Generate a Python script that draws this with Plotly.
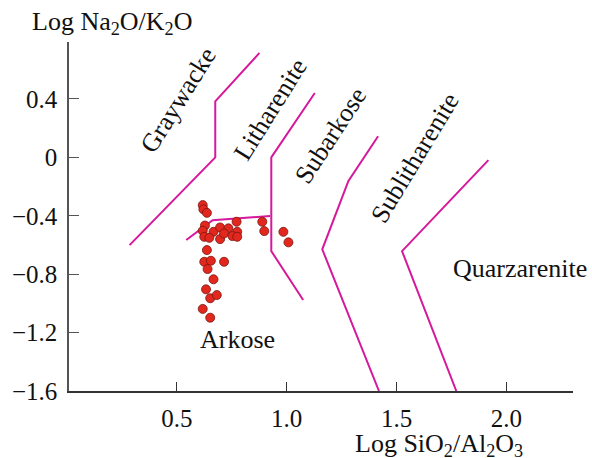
import plotly.graph_objects as go

# Sample points (Log SiO2/Al2O3, Log Na2O/K2O)
sample_x = [0.618, 0.621, 0.637, 0.628, 0.618, 0.667, 0.697, 0.735, 0.772, 0.775,
            0.625, 0.648, 0.697, 0.715, 0.753, 0.775, 0.889, 0.898, 0.985, 1.008,
            0.637, 0.625, 0.655, 0.640, 0.715, 0.667, 0.633, 0.652, 0.682, 0.618, 0.652]
sample_y = [-0.327, -0.356, -0.380, -0.467, -0.503, -0.510, -0.480, -0.486, -0.441, -0.510,
            -0.544, -0.551, -0.560, -0.521, -0.539, -0.544, -0.441, -0.505, -0.510, -0.582,
            -0.635, -0.715, -0.708, -0.765, -0.715, -0.835, -0.904, -0.965, -0.943, -1.038, -1.098]

# Field boundaries
graywacke_x = [0.285, 0.675, 0.675, 0.876]
graywacke_y = [-0.601, 0.0, 0.384, 0.715]
litharenite_x = [1.075, 0.930, 0.930, 1.128]
litharenite_y = [-0.977, -0.642, 0.0, 0.441]
arkose_x = [0.543, 0.663, 0.925]
arkose_y = [-0.566, -0.430, -0.402]
subarkose_x = [1.420, 1.162, 1.281, 1.416]
subarkose_y = [-1.6, -0.630, -0.161, 0.145]
sublith_x = [1.772, 1.525, 1.918]
sublith_y = [-1.6, -0.642, -0.019]

# Field labels
field_names = ["Graywacke", "Litharenite", "Subarkose", "Sublitharenite", "Arkose", "Quarzarenite"]
field_x = [0.505, 0.925, 1.199, 1.585, 0.774, 2.062]
field_y = [0.391, 0.330, 0.152, -0.002, -1.250, -0.758]
field_angle = [-58, -58, -57, -59, 0, 0]

x_ticks = [0.5, 1.0, 1.5, 2.0]
y_ticks = [0.4, 0, -0.4, -0.8, -1.2, -1.6]

LINE = "#d6189b"
FONT = "Liberation Serif"

fig = go.Figure()
for xs, ys in [(graywacke_x, graywacke_y), (litharenite_x, litharenite_y),
               (arkose_x, arkose_y), (subarkose_x, subarkose_y), (sublith_x, sublith_y)]:
    fig.add_trace(go.Scatter(x=xs, y=ys, mode="lines",
                             line=dict(color=LINE, width=2), hoverinfo="skip"))

fig.add_trace(go.Scatter(x=sample_x, y=sample_y, mode="markers",
                         marker=dict(size=9, color="#e2281e",
                                     line=dict(color="#7a140c", width=0.8))))

for name, fx, fy, ang in zip(field_names, field_x, field_y, field_angle):
    fig.add_annotation(x=fx, y=fy, text=name, showarrow=False, textangle=ang,
                       xanchor="center", yanchor="middle",
                       font=dict(family=FONT, size=26, color="#111"))

fig.add_annotation(xref="paper", yref="paper", x=-0.077, y=1.055,
                   text="Log Na<sub>2</sub>O/K<sub>2</sub>O", showarrow=False,
                   xanchor="left", yanchor="middle",
                   font=dict(family=FONT, size=26, color="#111"))
fig.add_annotation(xref="paper", yref="paper", x=0.735, y=-0.155,
                   text="Log SiO<sub>2</sub>/Al<sub>2</sub>O<sub>3</sub>", showarrow=False,
                   xanchor="center", yanchor="middle",
                   font=dict(family=FONT, size=26, color="#111"))

fig.update_layout(
    width=592, height=458,
    margin=dict(l=63, r=19, t=42, b=67),
    paper_bgcolor="white", plot_bgcolor="white",
    showlegend=False,
    font=dict(family=FONT, size=25, color="#111"),
)
fig.update_xaxes(range=[0.0094, 2.303], tickvals=x_ticks, ticktext=["0.5", "1.0", "1.5", "2.0"],
                 showgrid=False, zeroline=False, showline=True, linecolor="#333", linewidth=1.5,
                 ticks="inside", ticklen=9, tickwidth=1.2, tickcolor="#333", ticklabelstandoff=4)
fig.update_yaxes(range=[-1.6, 0.79], tickvals=y_ticks,
                 ticktext=["0.4", "0", "\u22120.4", "\u22120.8", "\u22121.2", "\u22121.6"],
                 showgrid=False, zeroline=False, showline=True, linecolor="#555", linewidth=1.5,
                 ticks="inside", ticklen=10, tickwidth=1.2, tickcolor="#555", ticklabelstandoff=5)

fig.write_html("out.html")
